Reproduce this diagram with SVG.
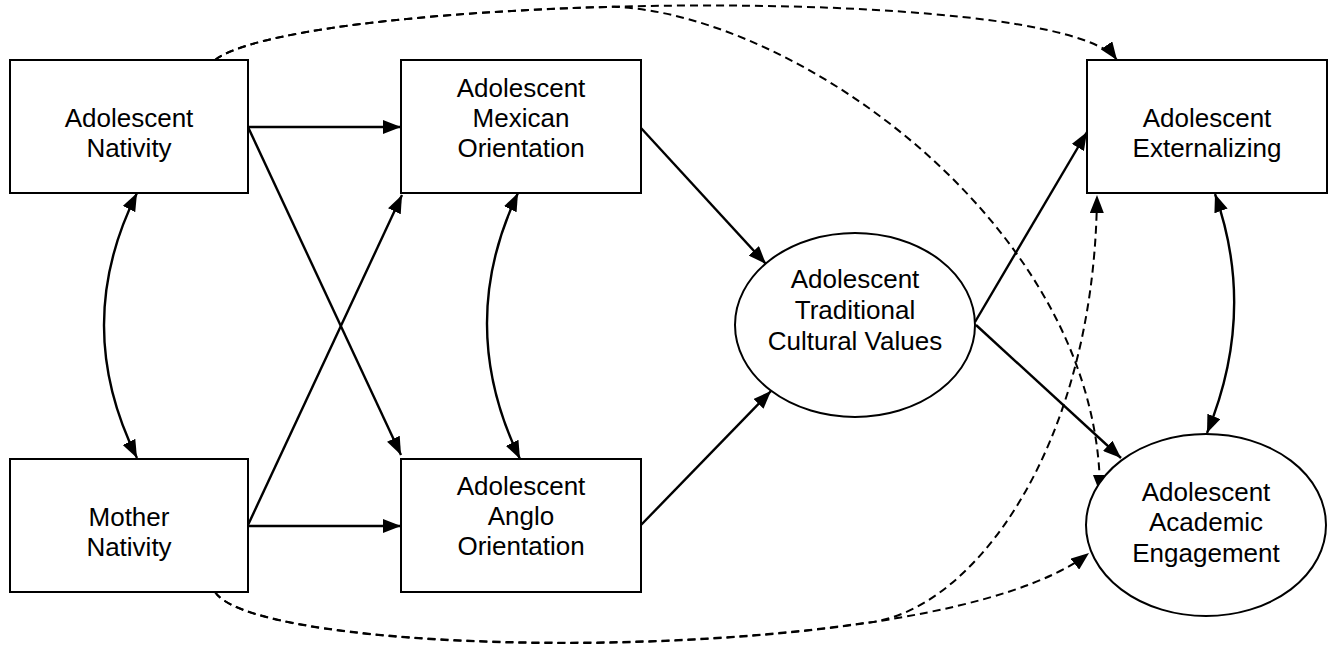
<svg xmlns="http://www.w3.org/2000/svg" width="1339" height="649" viewBox="0 0 1339 649">
<style>
.box{fill:#fff;stroke:#000;stroke-width:2}
.t{font-family:"Liberation Sans",Arial,sans-serif;font-size:26px;fill:#000;text-anchor:middle}
.c{fill:none;stroke:#000;stroke-width:2.4}
.d{fill:none;stroke:#000;stroke-width:2;stroke-dasharray:8 5}
</style>
<defs>
<marker id="ah" markerUnits="userSpaceOnUse" markerWidth="18" markerHeight="14" refX="18" refY="7" orient="auto-start-reverse">
<path d="M0,0 L18,7 L0,14 z" fill="#000"/>
</marker>
</defs>
<rect width="1339" height="649" fill="#fff"/>
<g id="connectors">
<line class="c" x1="248" y1="127" x2="401" y2="127" marker-end="url(#ah)"/>
<line class="c" x1="248" y1="127" x2="401" y2="455" marker-end="url(#ah)"/>
<line class="c" x1="248" y1="525" x2="402" y2="195" marker-end="url(#ah)"/>
<line class="c" x1="248" y1="526" x2="401" y2="526" marker-end="url(#ah)"/>
<line class="c" x1="641" y1="128" x2="766" y2="264" marker-end="url(#ah)"/>
<line class="c" x1="641" y1="525" x2="771" y2="391" marker-end="url(#ah)"/>
<line class="c" x1="975" y1="322" x2="1087" y2="132" marker-end="url(#ah)"/>
<line class="c" x1="976" y1="325" x2="1121" y2="458" marker-end="url(#ah)"/>
<path class="c" d="M137,193 Q71,325 137,458" marker-start="url(#ah)" marker-end="url(#ah)"/>
<path class="c" d="M518,193 Q455,325 520,459" marker-start="url(#ah)" marker-end="url(#ah)"/>
<path class="c" d="M1215,194 Q1257,312 1207,433" marker-start="url(#ah)" marker-end="url(#ah)"/>
<path class="d" d="M215,60 C300,-5 1060,-20 1117,60" marker-end="url(#ah)"/>
<path class="d" d="M215,60 C253.25,30.75 428.2,11.6 614.2,6.7 C800,15 1100,230 1100,493" marker-end="url(#ah)"/>
<path class="d" d="M215,592 C260,662 940,670 1089,553" marker-end="url(#ah)"/>
<path class="d" d="M215,592 C247.4,642 609,660 864.2,623 C970,615 1095,450 1097,195" marker-end="url(#ah)"/>
</g>
<g id="adolescent-nativity">
<rect class="box" x="10" y="60" width="238" height="133"/>
<text class="t" x="129" y="127">Adolescent</text>
<text class="t" x="129" y="157">Nativity</text>
</g>
<g id="mother-nativity">
<rect class="box" x="10" y="459" width="238" height="133"/>
<text class="t" x="129" y="526">Mother</text>
<text class="t" x="129" y="556">Nativity</text>
</g>
<g id="mexican-orientation">
<rect class="box" x="401" y="60" width="240" height="133"/>
<text class="t" x="521" y="97">Adolescent</text>
<text class="t" x="521" y="127">Mexican</text>
<text class="t" x="521" y="157">Orientation</text>
</g>
<g id="anglo-orientation">
<rect class="box" x="401" y="459" width="240" height="133"/>
<text class="t" x="521" y="495">Adolescent</text>
<text class="t" x="521" y="525">Anglo</text>
<text class="t" x="521" y="555">Orientation</text>
</g>
<g id="traditional-values">
<ellipse class="box" cx="855" cy="325" rx="120" ry="92"/>
<text class="t" x="855" y="288">Adolescent</text>
<text class="t" x="855" y="319">Traditional</text>
<text class="t" x="855" y="350">Cultural Values</text>
</g>
<g id="externalizing">
<rect class="box" x="1087" y="60" width="240" height="133"/>
<text class="t" x="1207" y="127">Adolescent</text>
<text class="t" x="1207" y="157">Externalizing</text>
</g>
<g id="academic-engagement">
<ellipse class="box" cx="1206" cy="525" rx="120" ry="91"/>
<text class="t" x="1206" y="501">Adolescent</text>
<text class="t" x="1206" y="531">Academic</text>
<text class="t" x="1206" y="562">Engagement</text>
</g>
</svg>
